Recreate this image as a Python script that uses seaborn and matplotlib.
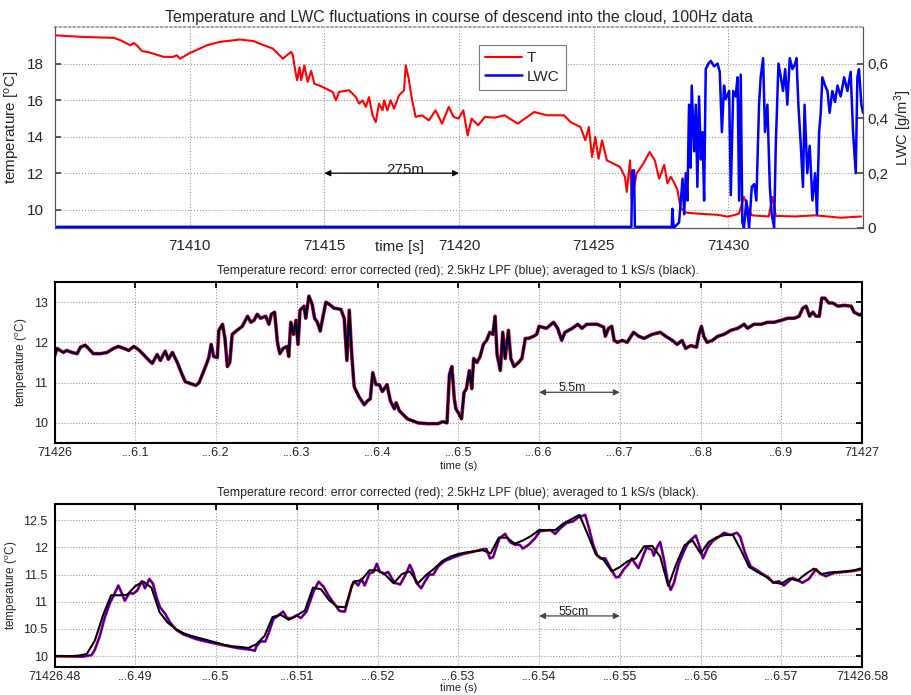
import matplotlib
matplotlib.use("Agg")
import matplotlib.pyplot as plt
import seaborn as sns

# ---- panel 1: 100 Hz temperature and LWC during descent ----
t1_time = [71405.0, 71406.07, 71407.18, 71407.43, 71407.80, 71407.92, 71408.04, 71408.23,
           71408.53, 71409.03, 71409.40, 71409.52, 71409.64, 71410.01, 71410.63, 71411.12,
           71411.86, 71412.35, 71413.09, 71413.46, 71413.65, 71413.77, 71413.83, 71413.93,
           71413.99, 71414.08, 71414.14, 71414.26, 71414.38, 71414.51, 71414.63, 71414.82,
           71415.06, 71415.31, 71415.43, 71415.55, 71415.92, 71416.17, 71416.29, 71416.42,
           71416.54, 71416.66, 71416.79, 71416.91, 71417.03, 71417.16, 71417.22, 71417.34,
           71417.46, 71417.59, 71417.77, 71417.96, 71418.02, 71418.12, 71418.26, 71418.39,
           71418.63, 71418.88, 71419.13, 71419.37, 71419.62, 71419.80, 71419.98, 71420.16,
           71420.32, 71420.47, 71420.71, 71420.96, 71421.32, 71421.69, 71422.18, 71422.79,
           71423.28, 71423.90, 71424.14, 71424.51, 71424.69, 71424.82, 71424.94, 71425.06,
           71425.18, 71425.31, 71425.49, 71425.74, 71425.98, 71426.16, 71426.23, 71426.35,
           71426.41, 71426.59, 71426.84, 71427.08, 71427.27, 71427.43, 71427.62, 71427.74,
           71427.86, 71427.98, 71428.11, 71428.23, 71428.42, 71428.90, 71429.60, 71429.97,
           71430.20, 71430.39, 71430.58, 71430.76, 71430.88, 71431.50, 71431.64, 71431.76,
           71432.48, 71433.21, 71434.19, 71434.93]
t1_temp = [19.55, 19.46, 19.41, 19.28, 19.0, 19.13, 19.0, 18.69,
           18.6, 18.37, 18.37, 18.46, 18.27, 18.58, 19.0, 19.19,
           19.32, 19.24, 18.82, 18.27, 18.51, 18.64, 18.45, 17.54,
           17.09, 17.8, 17.09, 17.9, 17.0, 17.6, 16.9, 16.8,
           16.63, 16.45, 15.99, 16.45, 16.54, 16.17, 15.81, 15.99,
           15.63, 16.17, 15.17, 14.8, 15.81, 15.44, 15.99, 15.44,
           15.99, 15.53, 16.26, 16.54, 17.9, 17.27, 15.99, 15.08,
           15.17, 14.89, 15.44, 14.71, 15.63, 15.08, 14.99, 15.44,
           14.07, 14.99, 14.62, 15.08, 15.04, 15.17, 14.71, 15.35,
           15.17, 15.17, 14.8, 14.53, 13.8, 14.53, 12.89, 13.98,
           12.79, 13.8, 12.7, 12.52, 12.34, 11.79, 10.97, 12.7,
           10.5, 11.97, 12.52, 13.16, 12.7, 11.7, 12.45, 11.44,
           11.8, 11.5, 11.08, 10.08, 9.84, 9.78, 9.72, 9.62,
           9.7, 9.78, 10.7, 9.96, 9.69, 9.63, 10.7, 9.66,
           9.63, 9.69, 9.56, 9.63]

lwc_time = [71405.0, 71426.40, 71426.43, 71426.50, 71426.53, 71427.90, 71427.92, 71427.97,
            71428.17, 71428.30, 71428.36, 71428.42, 71428.48, 71428.54, 71428.60, 71428.64,
            71428.73, 71428.79, 71428.85, 71428.91, 71428.98, 71429.04, 71429.10, 71429.16,
            71429.26, 71429.35, 71429.47, 71429.60, 71429.68, 71429.76, 71429.84, 71429.90,
            71430.03, 71430.09, 71430.18, 71430.27, 71430.34, 71430.40, 71430.46, 71430.52,
            71430.58, 71430.67, 71430.77, 71430.87, 71430.96, 71431.04, 71431.14, 71431.20,
            71431.29, 71431.36, 71431.45, 71431.54, 71431.61, 71431.70, 71431.76, 71431.86,
            71431.95, 71432.03, 71432.11, 71432.19, 71432.28, 71432.38, 71432.48, 71432.53,
            71432.60, 71432.69, 71432.77, 71432.83, 71432.93, 71433.02, 71433.12, 71433.22,
            71433.29, 71433.37, 71433.43, 71433.49, 71433.59, 71433.68, 71433.76, 71433.86,
            71433.96, 71434.05, 71434.17, 71434.30, 71434.42, 71434.54, 71434.63, 71434.73,
            71434.79, 71434.85, 71434.94, 71435.0]
lwc_val = [0.004, 0.004, 0.21, 0.21, 0.004, 0.004, 0.07, 0.0,
           0.02, 0.18, 0.05, 0.2, 0.1, 0.45, 0.22, 0.52,
           0.28, 0.45, 0.15, 0.48, 0.25, 0.35, 0.1, 0.58,
           0.6, 0.61, 0.59, 0.6, 0.57, 0.35, 0.52, 0.47,
           0.5, 0.12, 0.5, 0.48, 0.55, 0.1, 0.56, 0.02,
           0.0, 0.1, 0.0, 0.15, 0.16, 0.1, 0.45, 0.55,
           0.62, 0.35, 0.45, 0.15, 0.05, 0.0, 0.3, 0.6,
           0.55, 0.5, 0.58, 0.45, 0.62, 0.58, 0.6, 0.62,
           0.45, 0.3, 0.15, 0.45, 0.2, 0.3, 0.1, 0.2,
           0.05, 0.35, 0.42, 0.55, 0.52, 0.5, 0.42, 0.5,
           0.46, 0.52, 0.48, 0.55, 0.5, 0.57, 0.35, 0.2,
           0.55, 0.58, 0.45, 0.42]

# ---- panel 2: one second of record, offset in s from 71426 ----
t2_sec = [0.0, 0.003, 0.007, 0.011, 0.015, 0.0215, 0.028, 0.032, 0.038, 0.042, 0.048, 0.057,
          0.065, 0.073, 0.079, 0.086, 0.092, 0.098, 0.104, 0.110, 0.117, 0.121, 0.127, 0.131,
          0.137, 0.141, 0.146, 0.152, 0.158, 0.162, 0.168, 0.175, 0.179, 0.183, 0.187, 0.191,
          0.194, 0.197, 0.2015, 0.2035, 0.208, 0.211, 0.214, 0.217, 0.220, 0.226, 0.2325, 0.239,
          0.243, 0.247, 0.251, 0.255, 0.2615, 0.2655, 0.2685, 0.2725, 0.276, 0.279, 0.283, 0.288,
          0.290, 0.2925, 0.296, 0.299, 0.3015, 0.304, 0.309, 0.311, 0.315, 0.319, 0.322, 0.3255,
          0.329, 0.332, 0.336, 0.340, 0.3463, 0.3546, 0.3587, 0.362, 0.365, 0.368, 0.371, 0.377,
          0.3835, 0.3877, 0.391, 0.394, 0.398, 0.402, 0.406, 0.4117, 0.4158, 0.4208, 0.423, 0.427,
          0.437, 0.450, 0.462, 0.4746, 0.4808, 0.486, 0.489, 0.492, 0.495, 0.497, 0.500, 0.504,
          0.507, 0.510, 0.5137, 0.5166, 0.519, 0.523, 0.527, 0.531, 0.535, 0.539, 0.5427, 0.5455,
          0.548, 0.552, 0.555, 0.558, 0.562, 0.565, 0.569, 0.5745, 0.5787, 0.583, 0.587, 0.593,
          0.597, 0.600, 0.609, 0.618, 0.623, 0.628, 0.632, 0.641, 0.648, 0.653, 0.659, 0.672,
          0.680, 0.682, 0.686, 0.690, 0.693, 0.697, 0.703, 0.709, 0.717, 0.7236, 0.730, 0.740,
          0.750, 0.757, 0.765, 0.771, 0.777, 0.7815, 0.7878, 0.795, 0.798, 0.801, 0.804, 0.808,
          0.8147, 0.821, 0.829, 0.8375, 0.846, 0.854, 0.858, 0.866, 0.875, 0.883, 0.891, 0.900,
          0.908, 0.916, 0.922, 0.9265, 0.9307, 0.935, 0.939, 0.943, 0.947, 0.950, 0.954, 0.9585,
          0.9635, 0.970, 0.978, 0.9865, 0.990, 0.997, 1.0]
t2_temp = [11.65, 11.85, 11.8, 11.75, 11.8, 11.75, 11.72, 11.88, 11.93, 11.85, 11.72, 11.72,
           11.75, 11.85, 11.9, 11.85, 11.8, 11.9, 11.82, 11.7, 11.55, 11.48, 11.7, 11.55,
           11.78, 11.58, 11.75, 11.5, 11.2, 11.02, 10.98, 10.93, 11.0, 11.2, 11.4, 11.62,
           11.95, 11.65, 11.62, 12.3, 12.45, 12.1, 11.4, 11.5, 12.2, 12.3, 12.4, 12.65,
           12.5, 12.55, 12.7, 12.6, 12.65, 12.45, 12.7, 12.75, 12.0, 11.72, 11.85, 11.9,
           11.65, 12.5, 12.2, 12.55, 11.95, 12.8, 12.9, 12.6, 13.15, 12.95, 12.6, 12.5,
           12.28, 12.6, 13.0, 12.95, 12.85, 12.82, 12.6, 11.55, 12.8, 11.7, 10.9, 10.65,
           10.45, 10.55, 10.6, 11.25, 10.95, 10.95, 10.78, 10.95, 10.55, 10.35, 10.5, 10.3,
           10.1, 10.0, 9.98, 9.98, 10.03, 10.0, 11.2, 11.4, 10.6, 10.35, 10.25, 10.1,
           10.75, 10.85, 11.3, 10.85, 11.6, 11.5, 11.65, 11.95, 12.05, 12.25, 12.2, 12.65,
           11.7, 11.3, 12.25, 11.6, 12.3, 11.6, 11.4, 11.5, 11.6, 12.1, 12.1, 12.15,
           12.2, 12.4, 12.35, 12.5, 12.35, 12.05, 12.25, 12.35, 12.45, 12.35, 12.45, 12.45,
           12.38, 12.15, 12.35, 12.4, 12.05, 12.0, 12.05, 12.0, 12.25, 12.15, 12.1, 12.2,
           12.25, 12.15, 12.05, 11.95, 12.05, 11.85, 11.92, 11.88, 12.2, 12.4, 12.15, 12.0,
           12.05, 12.15, 12.2, 12.3, 12.35, 12.45, 12.35, 12.45, 12.45, 12.5, 12.5, 12.55,
           12.6, 12.6, 12.65, 12.85, 12.9, 12.65, 12.75, 12.65, 12.65, 13.1, 13.1, 12.98,
           12.98, 12.9, 12.92, 12.9, 12.75, 12.68, 12.72]

# ---- panel 3: 0.1 s zoom, offset in ms from 71426.48 ----
# averaged to 1 kS/s (one sample per ms)
k3_ms = list(range(101))
k3_temp = [10.0, 10.0, 10.0, 10.01, 10.04, 10.29, 10.75, 11.12, 11.12, 11.13,
           11.29, 11.37, 11.26, 10.81, 10.62, 10.5, 10.42, 10.37, 10.33, 10.29,
           10.25, 10.21, 10.18, 10.17, 10.15, 10.22, 10.37, 10.72, 10.76, 10.67,
           10.75, 10.84, 11.26, 11.23, 11.03, 10.91, 10.9, 11.37, 11.4, 11.58,
           11.58, 11.49, 11.34, 11.51, 11.56, 11.34, 11.49, 11.61, 11.75, 11.83,
           11.88, 11.91, 11.93, 11.95, 11.89, 12.18, 12.18, 12.07, 12.13, 12.21,
           12.32, 12.32, 12.32, 12.44, 12.52, 12.6, 12.25, 11.88, 11.77, 11.56,
           11.64, 11.75, 11.8, 12.02, 12.03, 11.83, 11.29, 11.7, 12.04, 12.13,
           11.89, 12.1, 12.19, 12.23, 12.23, 11.95, 11.64, 11.55, 11.47, 11.36,
           11.33, 11.43, 11.39, 11.51, 11.61, 11.51, 11.54, 11.55, 11.56, 11.58,
           11.62]
# 2.5 kHz low-pass filtered record
b3_ms = [0, 3.5, 4.6, 5.0, 5.6, 6.2, 6.86, 7.27, 7.9, 8.2, 8.7, 9.26, 9.75, 10.25, 10.8, 11.2,
         11.74, 12.2, 12.6, 13.06, 13.7, 14.3, 15.1, 15.95, 17.6, 19.3, 20.9, 22.6, 24.2, 24.8,
         25.0, 25.5, 26.1, 26.5, 27.1, 27.7, 28.3, 28.8, 29.4, 30.0, 30.5, 31.2, 32.1, 32.7,
         33.3, 33.9, 34.7, 35.3, 35.95, 36.4, 36.8, 37.2, 37.6, 38.0, 38.4, 39.0, 39.5, 39.9,
         40.3, 40.9, 41.3, 41.7, 42.1, 42.8, 43.4, 44.0, 44.4, 44.8, 45.4, 45.9, 46.4, 46.9,
         47.5, 48.3, 49.4, 50.6, 51.8, 53.1, 53.5, 53.9, 54.3, 55.1, 55.8, 56.4, 57.0, 57.6,
         58.0, 58.7, 59.5, 60.1, 61.4, 62.0, 62.6, 63.4, 64.2, 64.8, 65.7, 66.1, 66.7, 67.2,
         67.6, 68.2, 68.8, 69.5, 69.9, 70.5, 71.0, 71.5, 71.9, 72.3, 72.9, 73.3, 74.0, 74.2,
         74.6, 75.0, 75.5, 75.9, 76.3, 76.7, 77.3, 77.9, 78.5, 79.4, 79.8, 80.3, 80.9, 81.5,
         82.3, 82.9, 83.7, 84.5, 84.9, 85.5, 86.2, 87.0, 87.8, 88.4, 89.0, 89.7, 90.3, 91.4,
         92.0, 92.6, 93.4, 94.3, 94.8, 95.5, 96.5, 97.8, 99.0, 100.0]
b3_temp = [10.0, 9.99, 10.02, 10.12, 10.37, 10.7, 10.98, 11.1, 11.3, 11.2, 11.02, 11.16, 11.15,
           11.21, 11.38, 11.25, 11.42, 11.33, 11.1, 10.9, 10.78, 10.62, 10.48, 10.4, 10.31,
           10.25, 10.2, 10.15, 10.12, 10.1, 10.18, 10.27, 10.27, 10.42, 10.68, 10.75, 10.82,
           10.7, 10.7, 10.75, 10.7, 10.82, 11.2, 11.37, 11.28, 11.12, 10.95, 10.83, 10.82,
           11.06, 11.3, 11.37, 11.3, 11.42, 11.3, 11.52, 11.55, 11.7, 11.55, 11.52, 11.55,
           11.45, 11.35, 11.32, 11.48, 11.68, 11.55, 11.35, 11.25, 11.38, 11.5, 11.5, 11.65,
           11.75, 11.82, 11.88, 11.92, 11.97, 11.97, 11.8, 11.82, 12.17, 12.25, 12.1, 12.05,
           12.05, 11.98, 12.05, 12.17, 12.3, 12.32, 12.25, 12.35, 12.45, 12.48, 12.55, 12.6,
           12.4, 12.05, 11.85, 11.8, 11.8, 11.63, 11.45, 11.46, 11.6, 11.68, 11.8, 11.7,
           11.62, 11.85, 12.0, 11.95, 11.85, 12.0, 12.1, 11.75, 11.4, 11.22, 11.35, 11.7,
           11.92, 12.1, 12.22, 12.05, 11.8, 12.0, 12.12, 12.2, 12.27, 12.23, 12.27, 12.2,
           11.9, 11.65, 11.58, 11.5, 11.45, 11.35, 11.38, 11.3, 11.44, 11.4, 11.35, 11.42,
           11.6, 11.52, 11.47, 11.53, 11.55, 11.57, 11.6]

p1_xticks = [71410, 71415, 71420, 71425, 71430]
p2_xlabels = ["71426", "...6.1", "...6.2", "...6.3", "...6.4", "...6.5",
              "...6.6", "...6.7", "..6.8", "..6.9", "71427"]
p3_xlabels = ["71426.48", "...6.49", "...6.5", "...6.51", "...6.52", "...6.53",
              "...6.54", "...6.55", "...6.56", "...6.57", "71426.58"]
sub_title = "Temperature record: error corrected (red); 2.5kHz LPF (blue); averaged to 1 kS/s (black)."

sns.set_theme(style="white")
plt.rcParams["font.family"] = ["Liberation Sans", "DejaVu Sans"]
plt.rcParams["mathtext.default"] = "regular"

fig = plt.figure(figsize=(9.12, 6.95), dpi=100)
grid_kw = dict(linestyle=":", color="#9a9a9a", linewidth=0.8)


def double_arrow(ax, x0, x1, y, text, tx, ty, size, color):
    ax.annotate("", xy=(x0, y), xytext=(x1, y),
                arrowprops=dict(arrowstyle="<|-|>", color=color, lw=0.9,
                                mutation_scale=9, shrinkA=0, shrinkB=0))
    ax.text(tx, ty, text, ha="center", va="center", fontsize=size, color="#222222")


# ---------------- panel 1 ----------------
ax1 = fig.add_axes([0.0603, 0.672, 0.886, 0.289])
sns.lineplot(x=t1_time, y=t1_temp, ax=ax1, color="red", lw=1.5, sort=False,
             estimator=None, label="T", legend=False)
ax1.set_xlim(71405, 71435)
ax1.set_ylim(9, 20)
ax1.set_xticks(p1_xticks)
ax1.set_xticklabels([str(v) for v in p1_xticks])
ax1.set_yticks([10, 12, 14, 16, 18])
ax1.tick_params(direction="in", length=4, labelsize=11, color="#444444", pad=8)
ax1.grid(True, **grid_kw)
ax1.set_ylabel("temperature [$^o$C]", fontsize=11)
ax1.yaxis.set_label_coords(-0.041, 0.5)
ax1.set_title("Temperature and LWC fluctuations in course of descend into the cloud, 100Hz data",
              fontsize=11.5, pad=4)
for side in ["left", "bottom", "right"]:
    ax1.spines[side].set_color("#555555")
    ax1.spines[side].set_linewidth(0.8)
ax1.spines["top"].set_linestyle(":")
ax1.spines["top"].set_color("#9a9a9a")
double_arrow(ax1, 71415, 71420, 12, "275m", 71418.0, 12.2, 11, "black")

ax1b = ax1.twinx()
sns.lineplot(x=lwc_time, y=lwc_val, ax=ax1b, color="#0000ff", lw=1.8, sort=False,
             estimator=None, label="LWC", legend=False)
ax1b.set_ylim(0, 11 / 15)
ax1b.set_yticks([0, 0.2, 0.4, 0.6])
ax1b.set_yticklabels(["0", "0,2", "0,4", "0,6"])
ax1b.tick_params(direction="in", length=4, labelsize=11, color="#444444", pad=3)
ax1b.grid(False)
ax1b.set_ylabel("LWC [g/m$^3$]", fontsize=10.5)
ax1b.yaxis.set_label_coords(1.036, 0.5)
for side in ["left", "bottom", "right"]:
    ax1b.spines[side].set_color("#555555")
    ax1b.spines[side].set_linewidth(0.8)
ax1b.spines["top"].set_visible(False)
handles = [ax1.get_lines()[0], ax1b.get_lines()[0]]
leg = ax1b.legend(handles, ["T", "LWC"], loc="upper left", bbox_to_anchor=(0.5157, 0.949),
                  fontsize=11, fancybox=False, framealpha=1, edgecolor="#777777",
                  handlelength=2.4, handletextpad=0.3, borderpad=0.4, labelspacing=0.3)
leg.get_frame().set_linewidth(0.8)
fig.text(400 / 912, 1 - 247 / 695, "time [s]", ha="center", va="center", fontsize=11)


def style_lower(ax, xlabels, ylab_x, xlab_y):
    ax.tick_params(direction="in", length=4, labelsize=9, top=True, right=True,
                   color="black", pad=5)
    ax.tick_params(axis="x", pad=3)
    ax.grid(True, **grid_kw)
    for side in ax.spines:
        ax.spines[side].set_color("black")
        ax.spines[side].set_linewidth(1.5)
    ax.set_xticklabels(xlabels)
    ax.set_title(sub_title, fontsize=8.8, pad=6)
    ax.set_xlabel("time (s)", fontsize=8)
    ax.xaxis.set_label_coords(0.5, xlab_y)
    ax.set_ylabel("temperature ($^o$C)", fontsize=8.5)
    ax.yaxis.set_label_coords(ylab_x, 0.5)


# ---------------- panel 2 ----------------
ax2 = fig.add_axes([0.0598, 0.3626, 0.8855, 0.2316])
sns.lineplot(x=t2_sec, y=t2_temp, ax=ax2, color="red", lw=2.6, sort=False, estimator=None)
sns.lineplot(x=t2_sec, y=t2_temp, ax=ax2, color="#0000ff", lw=1.7, sort=False, estimator=None)
sns.lineplot(x=t2_sec, y=t2_temp, ax=ax2, color="black", lw=1.3, sort=False, estimator=None)
ax2.set_xlim(0, 1)
ax2.set_ylim(9.5, 13.5)
ax2.set_xticks([i / 10 for i in range(11)])
ax2.set_yticks([10, 11, 12, 13])
style_lower(ax2, p2_xlabels, -0.031, -0.112)
double_arrow(ax2, 0.6, 0.7, 10.76, "5.5m", 0.641, 10.86, 9, "#444444")

# ---------------- panel 3 ----------------
ax3 = fig.add_axes([0.0598, 0.0403, 0.8855, 0.2345])
sns.lineplot(x=b3_ms, y=b3_temp, ax=ax3, color="red", lw=2.0, sort=False, estimator=None)
sns.lineplot(x=b3_ms, y=b3_temp, ax=ax3, color="#0000ff", lw=1.0, sort=False, estimator=None)
sns.lineplot(x=k3_ms, y=k3_temp, ax=ax3, color="black", lw=1.5, sort=False, estimator=None)
ax3.set_xlim(0, 100)
ax3.set_ylim(9.8, 12.8)
ax3.set_xticks(list(range(0, 101, 10)))
ax3.set_yticks([10, 10.5, 11, 11.5, 12, 12.5])
ax3.set_yticklabels(["10", "10.5", "11", "11.5", "12", "12.5"])
style_lower(ax3, p3_xlabels, -0.043, -0.1)
double_arrow(ax3, 60, 70, 10.74, "55cm", 64.3, 10.82, 9, "#444444")

fig.savefig("out.png", dpi=100)
